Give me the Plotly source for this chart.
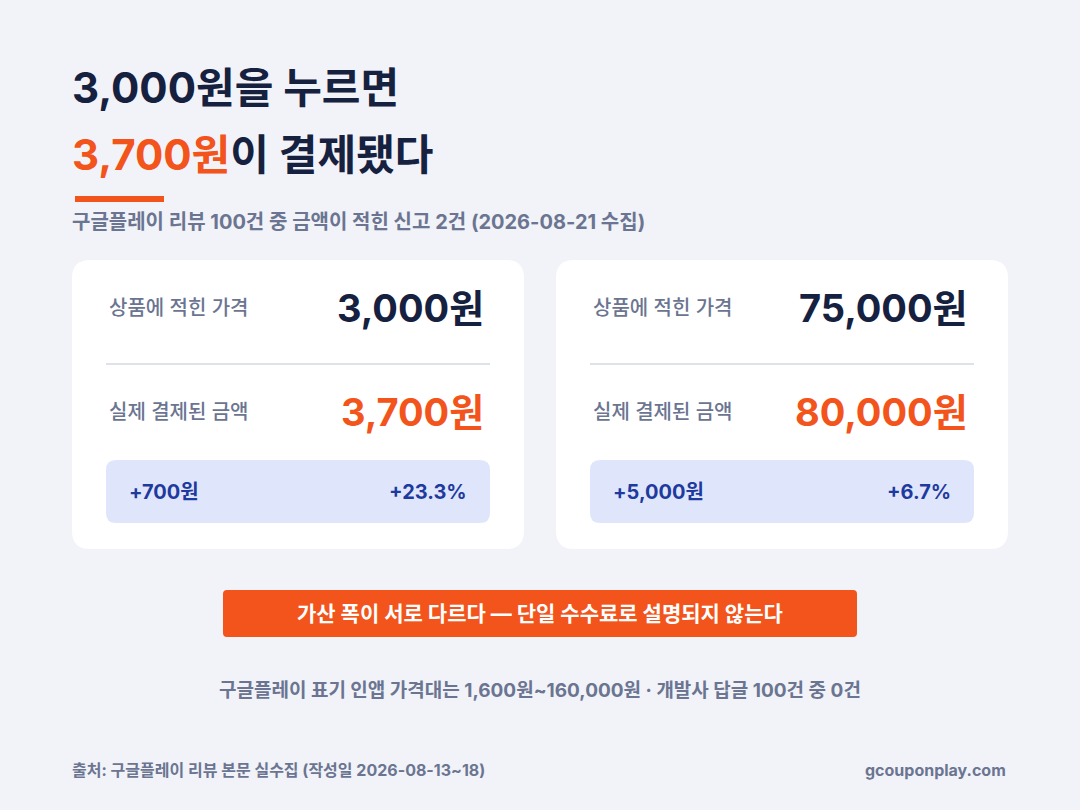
import plotly.graph_objects as go

listed = [3000, 75000]
charged = [3700, 80000]
card_labels = ["상품에 적힌 가격", "실제 결제된 금액"]
title1 = "3,000원을 누르면"
title2a = "3,700원"
title2b = "이 결제됐다"
subtitle = "구글플레이 리뷰 100건 중 금액이 적힌 신고 2건 (2026-08-21 수집)"
banner = "가산 폭이 서로 다르다 — 단일 수수료로 설명되지 않는다"
footnote = "구글플레이 표기 인앱 가격대는 1,600원~160,000원 · 개발사 답글 100건 중 0건"
source = "출처: 구글플레이 리뷰 본문 실수집 (작성일 2026-08-13~18)"
site = "gcouponplay.com"

W, H = 1080, 810
NAVY = "#16213f"; ORANGE = "#f2541b"; GRAY = "#6b7591"; BLUE = "#1f3a9e"
FONT = "Inter, Noto Sans CJK KR"

fig = go.Figure()
shapes = []; ann = []

def py(y): return 1 - y / H
def px(x): return x / W

def rrect(x0, y0, x1, y1, r, color):
    p = (f"M {px(x0+r)},{py(y0)} L {px(x1-r)},{py(y0)} Q {px(x1)},{py(y0)} {px(x1)},{py(y0+r)} "
         f"L {px(x1)},{py(y1-r)} Q {px(x1)},{py(y1)} {px(x1-r)},{py(y1)} L {px(x0+r)},{py(y1)} "
         f"Q {px(x0)},{py(y1)} {px(x0)},{py(y1-r)} L {px(x0)},{py(y0+r)} Q {px(x0)},{py(y0)} {px(x0+r)},{py(y0)} Z")
    shapes.append(dict(type="path", path=p, xref="paper", yref="paper", fillcolor=color, line=dict(width=0), layer="below"))

def text(x, y, s, size, color, anchor="left", bold=True):
    ann.append(dict(x=px(x), y=py(y), xref="paper", yref="paper", text=s, showarrow=False,
                    xanchor=anchor, yanchor="middle", font=dict(family=FONT, size=size, color=color,
                    weight=700 if bold else 500)))

text(70, 88, title1, 42, NAVY)
text(70, 155, f'<span style="color:{ORANGE}">{title2a}</span>{title2b}', 42, NAVY)
shapes.append(dict(type="line", xref="paper", yref="paper", x0=px(75), x1=px(164), y0=py(199), y1=py(199),
                   line=dict(color=ORANGE, width=6)))
text(70, 222, subtitle, 20, GRAY)

for i, x0 in enumerate([72, 556]):
    x1 = x0 + 452
    rrect(x0, 260, x1, 549, 18, "white")
    shapes.append(dict(type="line", xref="paper", yref="paper", x0=px(x0+34), x1=px(x1-34),
                       y0=py(364), y1=py(364), line=dict(color="#d3d8e2", width=1.5)))
    text(x0+35, 308, card_labels[0], 20, GRAY, bold=False)
    text(x1-38, 308, f"{listed[i]:,}원", 38, NAVY, "right")
    text(x0+35, 412, card_labels[1], 20, GRAY, bold=False)
    text(x1-38, 412, f"{charged[i]:,}원", 38, ORANGE, "right")
    rrect(x0+34, 460, x1-34, 523, 10, "#dfe6fb")
    d = charged[i] - listed[i]
    text(x0+55, 492, f"+{d:,}원", 20, BLUE)
    text(x1-55, 492, f"+{d/listed[i]*100:.1f}%", 20, BLUE, "right")

rrect(223, 590, 857, 637, 4, ORANGE)
text(540, 613, banner, 21, "white", "center")
text(540, 690, footnote, 19, GRAY, "center")
text(70, 770, source, 16, GRAY)
text(1008, 770, site, 16, GRAY, "right")

fig.update_layout(width=W, height=H, margin=dict(l=0, r=0, t=0, b=0),
                  paper_bgcolor="#f1f3f8", plot_bgcolor="#f1f3f8",
                  xaxis=dict(visible=False, range=[0, 1]), yaxis=dict(visible=False, range=[0, 1]),
                  shapes=shapes, annotations=ann, showlegend=False)
fig.write_html("out.html", config={"displayModeBar": False},
               post_script="document.body.style.margin='0';document.body.style.padding='0';document.body.style.background='#f1f3f8';")
